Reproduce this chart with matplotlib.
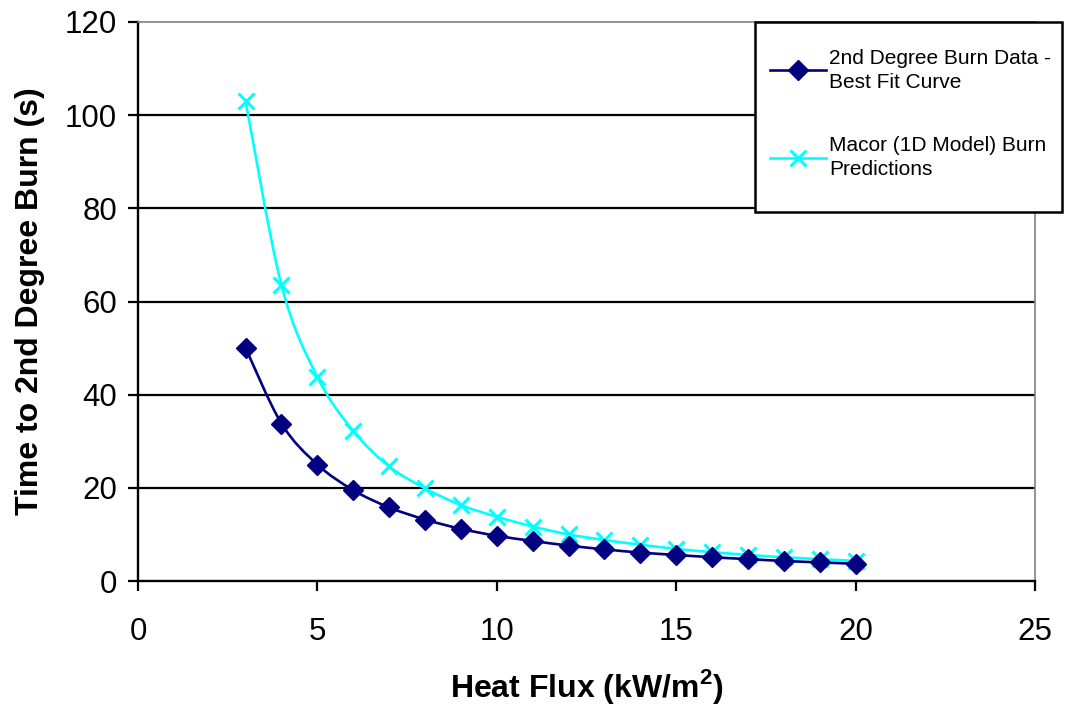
"""
  Tempo ate queimadura de 2o grau vs fluxo de calor.
"""
import matplotlib
matplotlib.use('Agg')
import matplotlib.pyplot as plt
from matplotlib.path import Path
from matplotlib.patches import PathPatch, Rectangle
from matplotlib.lines import Line2D

plt.rcParams['font.family'] = ['Liberation Sans', 'DejaVu Sans']
plt.rcParams['mathtext.fontset'] = 'custom'
plt.rcParams['mathtext.bf'] = 'Liberation Sans:bold'
plt.rcParams['mathtext.rm'] = 'Liberation Sans'

# Dados
fluxo = [3, 4, 5, 6, 7, 8, 9, 10, 11, 12, 13, 14, 15, 16, 17, 18, 19, 20]
queimadura = [50.0, 33.8, 25.0, 19.5, 15.8, 13.2, 11.2, 9.7, 8.6, 7.6,
              6.8, 6.1, 5.6, 5.1, 4.7, 4.3, 4.0, 3.7]
macor = [103.0, 63.5, 43.8, 32.2, 24.6, 19.9, 16.3, 13.8, 11.7, 10.0,
         8.8, 7.8, 6.9, 6.2, 5.6, 5.1, 4.7, 4.3]

rotulo_1 = "2nd Degree Burn Data -\nBest Fit Curve"
rotulo_2 = "Macor (1D Model) Burn\nPredictions"

AZUL = '#000080'
CIANO = '#00FFFF'


def curva_suave(X, Y):
  # Curva de Bezier estilo Excel (catmull-rom)
  verts = [(X[0], Y[0])]
  codes = [Path.MOVETO]
  n = len(X)
  for i in range(n - 1):
    x0, y0 = (X[i-1], Y[i-1]) if i > 0 else (X[i], Y[i])
    x1, y1 = X[i], Y[i]
    x2, y2 = X[i+1], Y[i+1]
    x3, y3 = (X[i+2], Y[i+2]) if i + 2 < n else (X[i+1], Y[i+1])
    c1 = (x1 + (x2 - x0) / 6, y1 + (y2 - y0) / 6)
    c2 = (x2 - (x3 - x1) / 6, y2 - (y3 - y1) / 6)
    verts += [c1, c2, (x2, y2)]
    codes += [Path.CURVE4] * 3
  return Path(verts, codes)


fig = plt.figure(figsize=(10.88, 7.07), dpi=100)
ax = fig.add_axes([0.1268, 0.1782, 0.8245, 0.7907])

for X, Y, cor in [(fluxo, macor, CIANO), (fluxo, queimadura, AZUL)]:
  ax.add_patch(PathPatch(curva_suave(X, Y), facecolor='none', edgecolor=cor, lw=1.9, zorder=3))

ax.plot(fluxo, macor, ls='none', marker='x', ms=11, mew=2.2, color=CIANO, zorder=4)
ax.plot(fluxo, queimadura, ls='none', marker='D', ms=10.5, color=AZUL, zorder=5)

ax.set_xlim(0, 25)
ax.set_ylim(0, 120)
ax.set_xticks([0, 5, 10, 15, 20, 25])
ax.set_yticks([0, 20, 40, 60, 80, 100, 120])

# Grade
for y in [20, 40, 60, 80, 100]:
  ax.axhline(y, color='black', lw=1.6, zorder=1)

ax.spines['top'].set_color('#808080')
ax.spines['right'].set_color('#808080')
ax.spines['top'].set_linewidth(1.2)
ax.spines['right'].set_linewidth(1.2)
ax.spines['left'].set_linewidth(1.7)
ax.spines['bottom'].set_linewidth(1.7)

ax.tick_params(direction='out', length=7, width=1.6, labelsize=22.5, pad=8)
ax.tick_params(axis='x', pad=19)

ax.set_xlabel(r'Heat Flux (kW/m$^\mathbf{2}$)', fontsize=23, fontweight='bold', labelpad=14)
ax.set_ylabel('Time to 2nd Degree Burn (s)', fontsize=23, fontweight='bold', labelpad=14)

# Caixa da legenda
caixa = Rectangle((755/1088, 1 - 212/707), 307/1088, 190/707, transform=fig.transFigure,
                  facecolor='white', edgecolor='black', lw=1.8, zorder=10)
fig.add_artist(caixa)

alcas = [Line2D([], [], color=AZUL, lw=1.9, marker='D', ms=10.5),
         Line2D([], [], color=CIANO, lw=1.9, marker='x', ms=11, mew=2.2)]
leg = fig.legend(alcas, [rotulo_1, rotulo_2], loc='upper left', bbox_to_anchor=(755/1088, 1 - 34/707),
                 fontsize=15, frameon=False,
                 handlelength=2.7, handletextpad=0.15, borderpad=0.72, labelspacing=2.15,
                 borderaxespad=0)
leg.set_zorder(11)
for t in leg.get_texts():
  t.set_linespacing(1.3)

fig.savefig('out.png', dpi=100)
